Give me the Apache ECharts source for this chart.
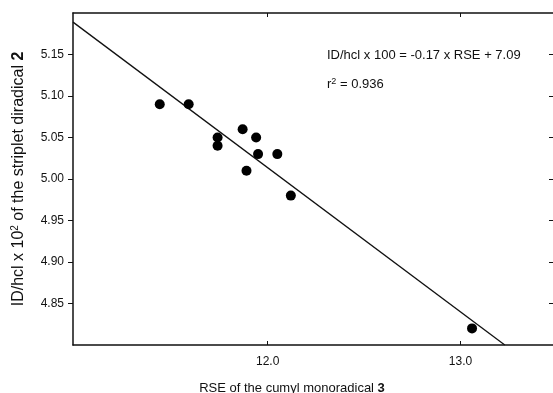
<!DOCTYPE html>
<html>
<head>
<meta charset="utf-8">
<script src="https://cdn.jsdelivr.net/npm/echarts@6/dist/echarts.min.js"></script>
<style>
  html, body { margin: 0; padding: 0; background: #fff; }
  #main { width: 553px; height: 393px; }
</style>
</head>
<body>
<div id="main"></div>
<script>
// RSE of cumyl monoradical (x) vs ID/hcl x 10^2 of the triplet diradical (y)
const rseValues = [11.44, 11.59, 11.74, 11.74, 11.87, 11.94, 11.95, 12.05, 11.89, 12.12, 13.06];
const idValues = [5.09, 5.09, 5.05, 5.04, 5.06, 5.05, 5.03, 5.03, 5.01, 4.98, 4.82];
// regression line endpoints, as drawn
const fitX = [10.99, 13.23];
const fitY = [5.189, 4.80];
const xTicks = [12, 13];
const yTicks = [4.85, 4.90, 4.95, 5.00, 5.05, 5.10, 5.15];

const font = '"Liberation Sans", Arial, Helvetica, sans-serif';
const ink = '#111';
const chart = echarts.init(document.getElementById('main'));

const lineStyle = { color: ink, width: 1.5 };

chart.setOption({
  animation: false,
  grid: { left: 73, top: 13, right: 0, bottom: 48, outerBoundsMode: 'none' },
  xAxis: [
    {
      type: 'value',
      position: 'bottom',
      min: 10.99,
      max: 13.48,
      splitLine: { show: false },
      axisLine: { lineStyle },
      axisTick: { inside: true, length: 4, customValues: xTicks, lineStyle: { color: ink } },
      axisLabel: {
        customValues: xTicks,
        formatter: v => v.toFixed(1),
        margin: 11,
        fontSize: 12,
        fontFamily: font,
        color: ink
      },
      name: 'RSE of the cumyl monoradical {b|3}',
      nameLocation: 'middle',
      nameGap: 37,
      nameTextStyle: {
        fontSize: 13,
        fontFamily: font,
        color: ink,
        padding: [0, 42, 0, 0],
        rich: { b: { fontSize: 13, fontWeight: 'bold', fontFamily: font, color: ink } }
      }
    },
    {
      type: 'value',
      position: 'top',
      min: 10.99,
      max: 13.48,
      splitLine: { show: false },
      axisLine: { lineStyle },
      axisTick: { inside: true, length: 4, customValues: xTicks, lineStyle: { color: ink } },
      axisLabel: { show: false }
    }
  ],
  yAxis: [
    {
      type: 'value',
      position: 'left',
      min: 4.80,
      max: 5.20,
      splitLine: { show: false },
      axisLine: { show: true, lineStyle },
      axisTick: { show: true, length: 5, customValues: yTicks, lineStyle: { color: ink } },
      axisLabel: {
        customValues: yTicks,
        formatter: v => v.toFixed(2),
        margin: 9,
        fontSize: 12,
        fontFamily: font,
        color: ink
      },
      name: 'ID/hcl x 10{sup|2} of the striplet diradical {b|2}',
      nameLocation: 'middle',
      nameGap: 45,
      nameTextStyle: {
        fontSize: 16,
        fontFamily: font,
        color: ink,
        rich: {
          sup: { fontSize: 10, fontFamily: font, color: ink, verticalAlign: 'bottom', padding: [0, 0, 8, 0] },
          b: { fontSize: 16, fontWeight: 'bold', fontFamily: font, color: ink }
        }
      }
    },
    {
      // right frame: only the inward ticks show at the picture's edge
      type: 'value',
      position: 'right',
      min: 4.80,
      max: 5.20,
      splitLine: { show: false },
      axisLine: { show: false },
      axisTick: { show: true, inside: true, length: 4, customValues: yTicks, lineStyle: { color: ink } },
      axisLabel: { show: false }
    }
  ],
  graphic: [
    {
      type: 'text',
      left: 327,
      top: 49,
      style: { text: 'ID/hcl x 100 = -0.17 x RSE + 7.09', font: '13px ' + font, fill: ink }
    },
    {
      type: 'text',
      left: 327,
      top: 77,
      style: {
        text: 'r{sup|2} = 0.936',
        font: '13px ' + font,
        fill: ink,
        rich: { sup: { fontSize: 9, fontFamily: font, fill: ink, verticalAlign: 'top', padding: [0, 0, 6, 0] } }
      }
    }
  ],
  series: [
    {
      type: 'line',
      data: fitX.map((x, i) => [x, fitY[i]]),
      showSymbol: false,
      lineStyle: { color: ink, width: 1.3 },
      z: 2
    },
    {
      type: 'scatter',
      data: rseValues.map((x, i) => [x, idValues[i]]),
      symbol: 'circle',
      symbolSize: 10,
      itemStyle: { color: '#000', opacity: 1 },
      z: 3
    }
  ]
});
</script>
</body>
</html>
